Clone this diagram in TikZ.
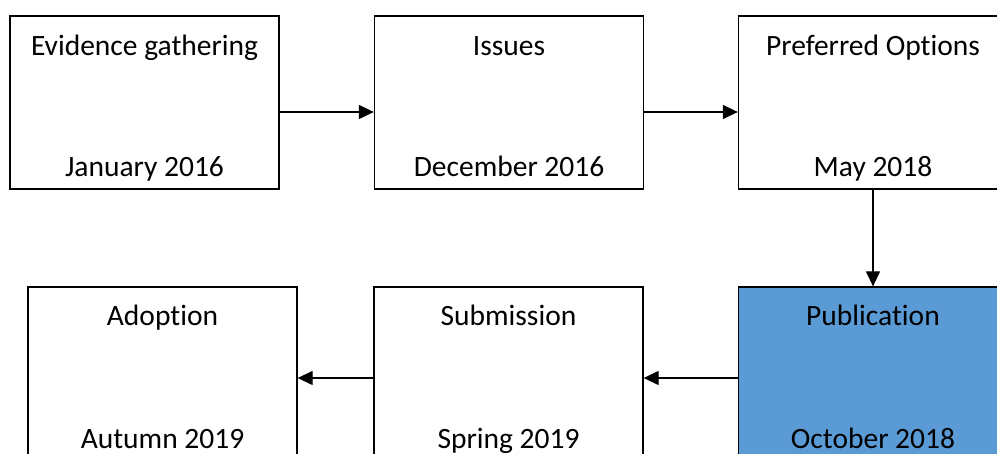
\documentclass[tikz,border=0pt]{standalone}
\usepackage{fontspec}
\setmainfont{Carlito}[Ligatures={NoCommon}]
\usetikzlibrary{arrows.meta}
\definecolor{pubblue}{HTML}{5B9BD5}
\tikzset{
  stagebox/.style={draw=black, line width=1.3pt, minimum width=269pt, minimum height=173pt, inner sep=0pt},
  arr/.style={line width=1.3pt, -{Triangle[length=15pt,width=14pt]}},
  lbl/.style={font=\fontsize{29.5}{34}\selectfont, anchor=base, inner sep=0pt}
}
\begin{document}
\begin{tikzpicture}[x=1pt,y=-1pt]
\useasboundingbox (0,0) rectangle (997,454);
\begin{scope}
\clip (0,0) rectangle (997,454);
\node[stagebox] (b1) at (144.5,102.5) {};
\node[stagebox] (b2) at (509,102.5) {};
\node[stagebox] (b3) at (873,102.5) {};
\node[stagebox] (b4) at (162.5,373.5) {};
\node[stagebox] (b5) at (508.5,373.5) {};
\node[stagebox, fill=pubblue] (b6) at (873,373.5) {};
\end{scope}
\node[lbl] (t1) at ([yshift=-40.5pt]b1.north) {Evidence gathering};
\node[lbl] (d1) at ([yshift=13pt]b1.south) {January 2016};
\node[lbl] (t2) at ([yshift=-40.5pt]b2.north) {Issues};
\node[lbl] (d2) at ([yshift=13pt]b2.south) {December 2016};
\node[lbl] (t3) at ([yshift=-40.5pt]b3.north) {Preferred Options};
\node[lbl] (d3) at ([yshift=13pt]b3.south) {May 2018};
\node[lbl] (t4) at ([yshift=-39.5pt]b4.north) {Adoption};
\node[lbl] (d4) at ([yshift=12pt]b4.south) {Autumn 2019};
\node[lbl] (t5) at ([yshift=-39.5pt]b5.north) {Submission};
\node[lbl] (d5) at ([yshift=12pt]b5.south) {Spring 2019};
\node[lbl] (t6) at ([yshift=-39.5pt]b6.north) {Publication};
\node[lbl] (d6) at ([yshift=12pt]b6.south) {October 2018};
\draw[arr] ([yshift=-9.5pt]b1.east) -- ([yshift=-9.5pt]b2.west);
\draw[arr] ([yshift=-9.5pt]b2.east) -- ([yshift=-9.5pt]b3.west);
\draw[arr] (b3.south) -- (b6.north);
\draw[arr] ([yshift=-4.5pt]b6.west) -- ([yshift=-4.5pt]b5.east);
\draw[arr] ([yshift=-4.5pt]b5.west) -- ([yshift=-4.5pt]b4.east);
\end{tikzpicture}
\end{document}
